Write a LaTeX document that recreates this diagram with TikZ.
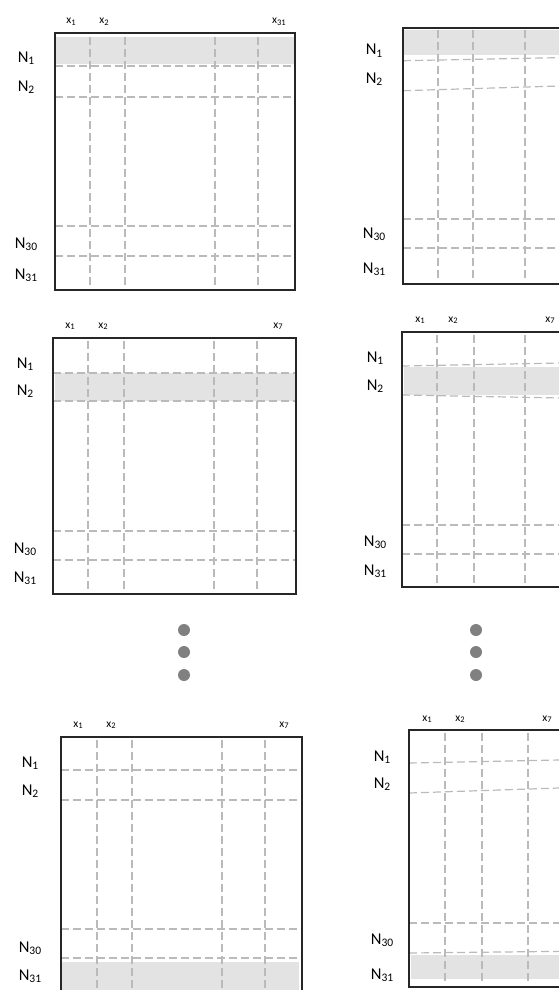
\documentclass[tikz,border=0pt]{standalone}
\usepackage{fontspec}
\setmainfont{Carlito}
% row labels N_k and column labels x_k with lowered subscripts
\newcommand\rowlab[1]{N\raisebox{-2pt}{\fontsize{11.5}{11.5}\selectfont #1}}
\newcommand\collab[1]{x\raisebox{-1.5pt}{\fontsize{8.5}{8.5}\selectfont #1}}
\tikzset{
  frame/.style={draw=black!85, line width=1.2pt},
  band/.style={fill=black!11, draw=none},
  gridline/.style={draw=black!27, line width=1.2pt, dash pattern=on 8pt off 4pt},
  rowname/.style={anchor=base, inner sep=0pt, text=black, font=\fontsize{16.5}{16.5}\selectfont},
  colname/.style={anchor=base, inner sep=0pt, text=black, font=\fontsize{11.5}{11.5}\selectfont},
  dot/.style={circle, fill=black!50, minimum size=12pt, inner sep=0pt}
}
\begin{document}
\begin{tikzpicture}[x=1pt, y=-1pt]
\useasboundingbox (0,0) rectangle (559,990);
\clip (0,0) rectangle (559,990);

% ---------- panel 1: top left, row N1 highlighted ----------
\fill[band] (55,37) rectangle (295,64);
\foreach \y in {66,97,226,256} \draw[gridline] (55,\y) -- (295,\y);
\foreach \x in {90,125,215,258} \draw[gridline] (\x,37) -- (\x,287);
\draw[frame] (55,33) rectangle (295,290);
\node[colname] (a-x1) at (71,24) {\collab{1}};
\node[colname] (a-x2) at (104,24) {\collab{2}};
\node[colname] (a-x3) at (279,24) {\collab{31}};
\node[rowname] (a-n1) at (26,63) {\rowlab{1}};
\node[rowname] (a-n2) at (26,91) {\rowlab{2}};
\node[rowname] (a-n3) at (26,248) {\rowlab{30}};
\node[rowname] (a-n4) at (26,279) {\rowlab{31}};

% ---------- panel 2: top right, skewed rows ----------
\fill[band] (404,30) rectangle (640,55);
\draw[gridline] (403,60.7) -- (640,56.1);
\draw[gridline] (403,90.7) -- (640,83.6);
\foreach \y in {219,248} \draw[gridline] (403,\y) -- (640,\y);
\foreach \x in {438,473,525} \draw[gridline] (\x,30) -- (\x,281);
\draw[frame] (403,28) rectangle (640,284);
\node[rowname] (b-n1) at (374,55) {\rowlab{1}};
\node[rowname] (b-n2) at (374,83) {\rowlab{2}};
\node[rowname] (b-n3) at (374,238) {\rowlab{30}};
\node[rowname] (b-n4) at (374,273) {\rowlab{31}};

% ---------- panel 3: middle left, row N2 highlighted ----------
\fill[band] (55,373) rectangle (296,401);
\foreach \y in {373,401,531,560} \draw[gridline] (53,\y) -- (296,\y);
\foreach \x in {88,124,214,257} \draw[gridline] (\x,341) -- (\x,591);
\draw[frame] (53,338) rectangle (296,594);
\node[colname] (c-x1) at (70,328) {\collab{1}};
\node[colname] (c-x2) at (103,328) {\collab{2}};
\node[colname] (c-x3) at (278,328) {\collab{7}};
\node[rowname] (c-n1) at (25,368) {\rowlab{1}};
\node[rowname] (c-n2) at (25,395) {\rowlab{2}};
\node[rowname] (c-n3) at (25,553) {\rowlab{30}};
\node[rowname] (c-n4) at (25,582) {\rowlab{31}};

% ---------- panel 4: middle right, skewed rows ----------
\fill[band] (404,367) rectangle (640,395);
\draw[gridline] (402,366) -- (640,361.5);
\draw[gridline] (402,395) -- (640,399.5);
\foreach \y in {525,554} \draw[gridline] (402,\y) -- (640,\y);
\foreach \x in {437,474,525} \draw[gridline] (\x,335) -- (\x,584);
\draw[frame] (402,332) rectangle (640,587);
\node[colname] (d-x1) at (420,322) {\collab{1}};
\node[colname] (d-x2) at (453,322) {\collab{2}};
\node[colname] (d-x3) at (550,322) {\collab{7}};
\node[rowname] (d-n1) at (375,362) {\rowlab{1}};
\node[rowname] (d-n2) at (375,390) {\rowlab{2}};
\node[rowname] (d-n3) at (375,546) {\rowlab{30}};
\node[rowname] (d-n4) at (375,575) {\rowlab{31}};

% ---------- continuation dots ----------
\foreach \y [count=\i] in {630,652,675} {
  \node[dot] (dl\i) at (184,\y) {};
  \node[dot] (dr\i) at (476,\y) {};
}

% ---------- panel 5: bottom left, row N31 highlighted ----------
\fill[band] (62,962) rectangle (299,995);
\foreach \y in {770,800,929,958} \draw[gridline] (61,\y) -- (302,\y);
\foreach \x in {97,132,222,265} \draw[gridline] (\x,740) -- (\x,995);
\draw[frame] (61,737) rectangle (302,995);
\node[colname] (e-x1) at (78,727) {\collab{1}};
\node[colname] (e-x2) at (111,727) {\collab{2}};
\node[colname] (e-x3) at (284,727) {\collab{7}};
\node[rowname] (e-n1) at (30,767) {\rowlab{1}};
\node[rowname] (e-n2) at (30,795) {\rowlab{2}};
\node[rowname] (e-n3) at (30,952) {\rowlab{30}};
\node[rowname] (e-n4) at (30,980) {\rowlab{31}};

% ---------- panel 6: bottom right, skewed rows ----------
\fill[band] (411,955) rectangle (640,979);
\draw[gridline] (409,763) -- (640,758.4);
\draw[gridline] (409,793) -- (640,785.3);
\draw[gridline] (409,923) -- (640,923);
\draw[gridline] (409,953) -- (640,950.5);
\foreach \x in {445,482,528} \draw[gridline] (\x,733) -- (\x,984);
\draw[frame] (409,730) rectangle (640,987);
\node[colname] (f-x1) at (427,721) {\collab{1}};
\node[colname] (f-x2) at (460,721) {\collab{2}};
\node[colname] (f-x3) at (547,721) {\collab{7}};
\node[rowname] (f-n1) at (382,761) {\rowlab{1}};
\node[rowname] (f-n2) at (382,788) {\rowlab{2}};
\node[rowname] (f-n3) at (382,944) {\rowlab{30}};
\node[rowname] (f-n4) at (382,979) {\rowlab{31}};
\end{tikzpicture}
\end{document}
